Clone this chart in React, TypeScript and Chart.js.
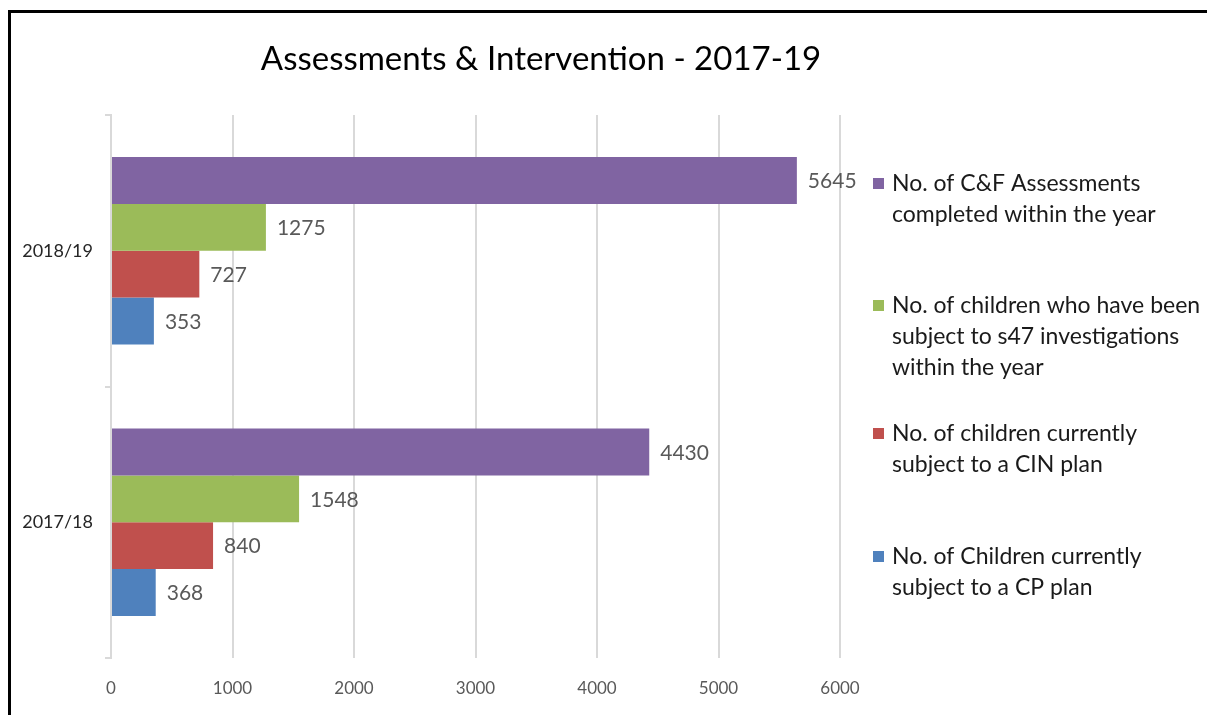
import React, { useEffect, useRef } from "react";
import { Chart, registerables } from "chart.js";

Chart.register(...registerables);

const TITLE = "Assessments & Intervention - 2017-19";
const categories = ["2018/19", "2017/18"];
const xTicks = [0, 1000, 2000, 3000, 4000, 5000, 6000];

const seriesNames: string[][] = [
  ["No. of C&F Assessments", "completed within the year"],
  ["No. of children who have been", "subject to s47 investigations", "within the year"],
  ["No. of children currently", "subject to a CIN plan"],
  ["No. of Children currently", "subject to a CP plan"],
];
const assessments = [5645, 4430];
const s47 = [1275, 1548];
const cin = [727, 840];
const cp = [353, 368];
const seriesValues = [assessments, s47, cin, cp];
const seriesColors = ["#8064A2", "#9BBB59", "#C0504D", "#4F81BD"];

const FONT = "Lato, 'Open Sans', sans-serif";

const overlayPlugin = {
  id: "overlay",
  afterDatasetsDraw(chart: any) {
    const ctx = chart.ctx;
    ctx.save();
    // data labels
    ctx.font = `21px ${FONT}`;
    ctx.fillStyle = "#595959";
    ctx.textAlign = "left";
    ctx.textBaseline = "middle";
    chart.data.datasets.forEach((ds: any, i: number) => {
      const meta = chart.getDatasetMeta(i);
      meta.data.forEach((bar: any, j: number) => {
        ctx.fillText(String(ds.data[j]), bar.x + 11, bar.y + 1);
      });
    });
    // title
    ctx.font = `33px ${FONT}`;
    ctx.fillStyle = "#000000";
    ctx.textAlign = "center";
    ctx.fillText(TITLE, 530, 46);
    // legend
    const starts = [171, 293, 421, 544];
    ctx.font = `23px ${FONT}`;
    ctx.textAlign = "left";
    chart.data.datasets.forEach((ds: any, i: number) => {
      const y0 = starts[i];
      ctx.fillStyle = ds.backgroundColor;
      ctx.fillRect(862, y0 - 6, 11, 11);
      ctx.fillStyle = "#1a1a1a";
      seriesNames[i].forEach((line, k) => {
        ctx.fillText(line, 881, y0 + k * 31);
      });
    });
    ctx.restore();
  },
};

export default function App() {
  const ref = useRef<HTMLCanvasElement | null>(null);
  useEffect(() => {
    if (!ref.current) return;
    const chart = new Chart(ref.current, {
      type: "bar",
      data: {
        labels: categories,
        datasets: seriesValues.map((vals, i) => ({
          label: seriesNames[i].join(" "),
          data: vals,
          backgroundColor: seriesColors[i],
          borderWidth: 0,
          categoryPercentage: 0.69,
          barPercentage: 1,
        })),
      },
      options: {
        indexAxis: "y",
        animation: false,
        responsive: false,
        maintainAspectRatio: false,
        layout: { padding: { top: 102, right: 367, left: 0, bottom: 0 } },
        plugins: {
          legend: { display: false },
          title: { display: false },
          tooltip: { enabled: false },
        },
        scales: {
          x: {
            min: 0,
            max: 6000,
            afterBuildTicks: (axis: any) => {
              axis.ticks = xTicks.map((v) => ({ value: v }));
            },
            afterFit: (axis: any) => {
              axis.height = 57;
            },
            grid: { color: "#d9d9d9", lineWidth: 2, drawTicks: false },
            border: { display: false },
            ticks: {
              padding: 20,
              color: "#595959",
              font: { family: FONT, size: 17 },
              callback: (v: any) => String(v),
            },
          },
          y: {
            afterFit: (axis: any) => {
              axis.width = 100;
            },
            grid: {
              drawOnChartArea: false,
              drawTicks: true,
              tickLength: 6,
              color: "#d9d9d9",
              lineWidth: 2,
            },
            border: { display: true, color: "#d9d9d9", width: 2 },
            ticks: {
              padding: 12,
              color: "#262626",
              font: { family: FONT, size: 18 },
            },
          },
        },
      },
      plugins: [overlayPlugin],
    });
    return () => chart.destroy();
  }, []);
  return (
    <div
      style={{
        position: "fixed",
        left: 8,
        top: 10,
        width: 1199,
        height: 705,
        borderLeft: "3px solid #000",
        borderTop: "3px solid #000",
        background: "#fff",
        overflow: "hidden",
      }}
    >
      <canvas ref={ref} width={1196} height={702} style={{ display: "block" }} />
    </div>
  );
}
